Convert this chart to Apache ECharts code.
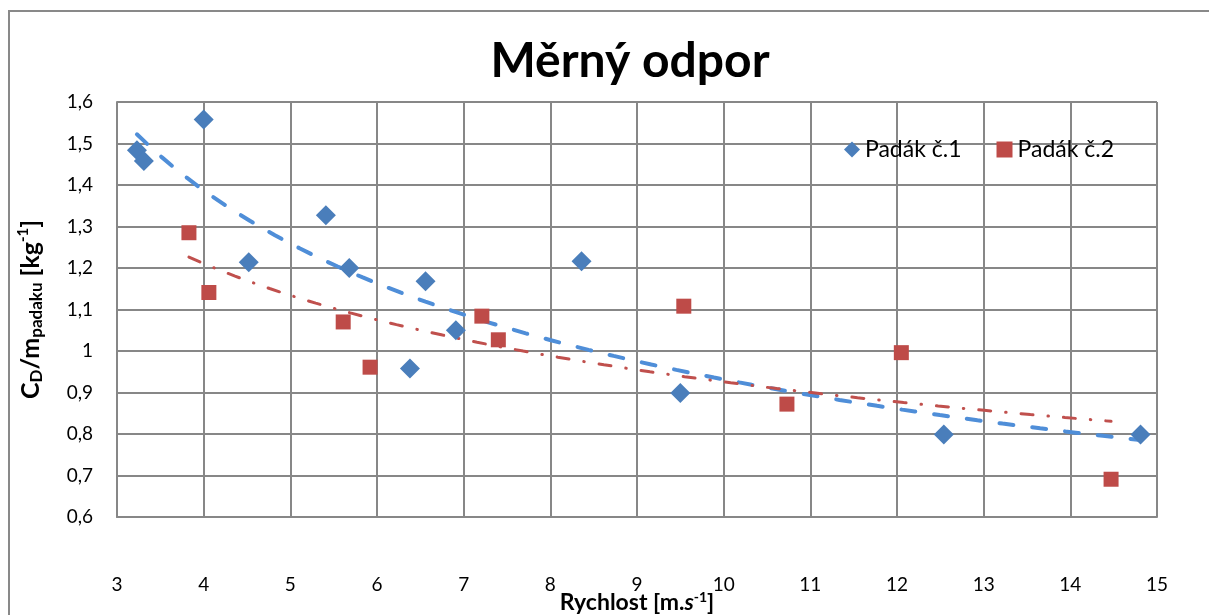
<!DOCTYPE html>
<html>
<head>
<meta charset="utf-8">
<script src="https://cdn.jsdelivr.net/npm/echarts@6/dist/echarts.min.js"></script>
<style>
  html, body { margin: 0; padding: 0; background: #fff; }
  #chart-container { width: 1209px; height: 615px; }
</style>
</head>
<body>
<div id="chart-container"></div>
<script>
// Padák č.1 (rychlost, měrný odpor)
var rychlost1 = [3.23, 3.31, 4.0, 4.52, 5.41, 5.68, 6.56, 6.38, 6.91, 8.36, 9.50, 12.54, 14.81];
var odpor1    = [1.484, 1.458, 1.558, 1.214, 1.327, 1.200, 1.168, 0.958, 1.050, 1.216, 0.899, 0.799, 0.799];
// Padák č.2
var rychlost2 = [3.83, 4.06, 5.61, 5.92, 7.21, 7.40, 9.54, 10.73, 12.05, 14.47];
var odpor2    = [1.285, 1.141, 1.070, 0.961, 1.084, 1.027, 1.108, 0.872, 0.996, 0.691];

var seriesNames = ['Padák č.1', 'Padák č.2'];

function pairs(xs, ys) {
    return xs.map(function (x, i) { return [x, ys[i]]; });
}

// power trendline y = a * x^b (least squares in log space), like Excel
function powerTrend(xs, ys) {
    var n = xs.length, sx = 0, sy = 0, sxx = 0, sxy = 0;
    for (var i = 0; i < n; i++) {
        var lx = Math.log(xs[i]), ly = Math.log(ys[i]);
        sx += lx; sy += ly; sxx += lx * lx; sxy += lx * ly;
    }
    var b = (n * sxy - sx * sy) / (n * sxx - sx * sx);
    var a = Math.exp((sy - b * sx) / n);
    var lo = Math.min.apply(null, xs), hi = Math.max.apply(null, xs);
    var out = [];
    for (var k = 0; k <= 80; k++) {
        var x = lo + (hi - lo) * k / 80;
        out.push([x, a * Math.pow(x, b)]);
    }
    return out;
}

var fontName = 'Lato, "Open Sans", sans-serif';
var gridColor = '#878787';

var myChart = echarts.init(document.getElementById('chart-container'));

var option = {
    backgroundColor: '#fff',
    animation: false,
    textStyle: { fontFamily: fontName },
    graphic: [{
        type: 'rect',
        shape: { x: 9, y: 11, width: 1400, height: 800 },
        style: { fill: 'none', stroke: '#898989', lineWidth: 2 },
        silent: true
    }],
    title: {
        text: 'Měrný odpor',
        left: 625,
        textAlign: 'center',
        top: 33,
        textStyle: { fontFamily: fontName, fontSize: 48, fontWeight: 'bold', color: '#000' }
    },
    legend: {
        data: [
            { name: seriesNames[0], icon: 'diamond' },
            { name: seriesNames[1], icon: 'rect' }
        ],
        left: 839,
        top: 133,
        itemWidth: 16,
        itemHeight: 16,
        itemGap: 35,
        textStyle: { fontFamily: fontName, fontSize: 23, color: '#000' }
    },
    grid: { left: 117, right: 52, top: 102, bottom: 98, outerBoundsMode: 'none' },
    xAxis: {
        type: 'value',
        min: 3,
        max: 15,
        interval: 1,
        name: 'Rychlost [m.{it|s}{sup|-1}]',
        nameLocation: 'middle',
        nameGap: 73,
        nameMoveOverlap: false,
        nameTextStyle: {
            fontFamily: fontName, fontSize: 23, fontWeight: 'bold', color: '#000',
            rich: {
                it: { fontSize: 23, fontWeight: 'bold', fontStyle: 'italic', fontFamily: fontName },
                sup: { fontSize: 14, fontWeight: 'bold', verticalAlign: 'top', fontFamily: fontName, padding: [0, 0, 12, 0] }
            }
        },
        axisLine: { lineStyle: { color: gridColor, width: 2 } },
        axisTick: { show: false },
        axisLabel: { margin: 58, fontSize: 19, color: '#000', fontFamily: fontName },
        splitLine: { lineStyle: { color: gridColor, width: 2 } }
    },
    yAxis: {
        type: 'value',
        min: 0.6,
        max: 1.6,
        interval: 0.1,
        name: 'C{sub|D}/m{sub|padaku} [kg{sup|-1}]',
        nameLocation: 'middle',
        nameRotate: 90,
        nameGap: 72,
        nameMoveOverlap: false,
        nameTextStyle: {
            fontFamily: fontName, fontSize: 25, fontWeight: 'bold', color: '#000',
            rich: {
                sub: { fontSize: 17, fontWeight: 'bold', fontFamily: fontName, verticalAlign: 'bottom', padding: [12, 0, 0, 0] },
                sup: { fontSize: 15, fontWeight: 'bold', fontFamily: fontName, verticalAlign: 'top', padding: [0, 0, 12, 0] }
            }
        },
        axisLine: { show: true, lineStyle: { color: gridColor, width: 2 } },
        axisTick: { show: false },
        axisLabel: {
            margin: 24, fontSize: 19, color: '#000', fontFamily: fontName,
            formatter: function (v) { return String(+v.toFixed(1)).replace('.', ','); }
        },
        splitLine: { lineStyle: { color: gridColor, width: 2 } }
    },
    series: [
        {
            name: seriesNames[0] + ' trend',
            type: 'line',
            data: powerTrend(rychlost1, odpor1),
            showSymbol: false,
            silent: true,
            z: 3,
            lineStyle: { color: '#4F8ED8', width: 4, type: [14, 19], cap: 'round' }
        },
        {
            name: seriesNames[1] + ' trend',
            type: 'line',
            data: powerTrend(rychlost2, odpor2),
            showSymbol: false,
            silent: true,
            z: 3,
            lineStyle: { color: '#C0504D', width: 3, type: [12, 15, 0.5, 15], cap: 'round' }
        },
        {
            name: seriesNames[0],
            type: 'scatter',
            symbol: 'diamond',
            symbolSize: 20,
            z: 4,
            itemStyle: { color: '#4A7EBB', opacity: 1 },
            data: pairs(rychlost1, odpor1)
        },
        {
            name: seriesNames[1],
            type: 'scatter',
            symbol: 'rect',
            symbolSize: 15,
            z: 4,
            itemStyle: { color: '#BE4B48', opacity: 1 },
            data: pairs(rychlost2, odpor2)
        }
    ]
};
myChart.setOption(option);
</script>
</body>
</html>
